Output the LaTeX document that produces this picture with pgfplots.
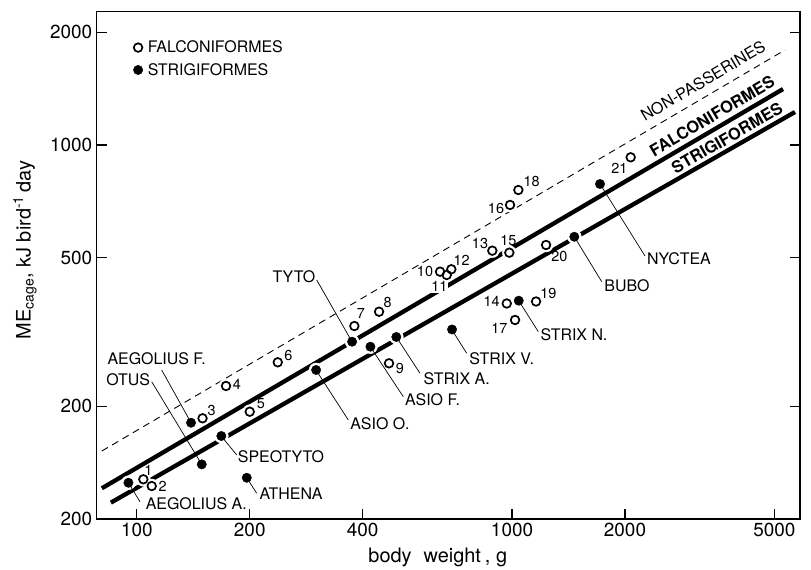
\documentclass[border=0pt]{standalone}
\usepackage{pgfplots}
\pgfplotsset{compat=1.18}
\usepackage{pgfplotstable}
\usepackage{fontspec}
\setmainfont{TeX Gyre Heros}
\newcommand\lab{\fontsize{16}{18}\selectfont}
\newcommand\num{\fontsize{14.5}{16}\selectfont}

\pgfplotstableread{
no x y
1 104.1 127.7
2 109.6 122.5
3 149.7 185.9
4 172.9 226.8
5 200.0 193.6
6 237.5 262.4
7 380.1 328.1
8 442.2 358.3
9 470.1 260.8
10 643.0 458.4
11 669.9 449.2
12 689.1 465.3
13 886.0 521.7
14 968.0 376.9
15 983.5 515.3
16 987.8 691.3
17 1018.6 340.5
18 1039.5 758.0
19 1158.7 381.6
20 1232.2 540.3
21 2071 927
}\falco

\pgfplotstableread{
name x y
AegoliusA 95.0 125.0
AegoliusF 139.5 180.9
Otus 149.0 140.0
Speotyto 168.0 166.7
Athena 196.4 128.9
AsioO 300.5 250.3
Tyto 374.8 297.9
AsioF 419.4 288.9
StrixA 491.6 306.7
StrixV 692.0 321.2
StrixN 1042 383.5
Bubo 1465.5 568.5
Nyctea 1716 786.6
}\strix

\begin{document}
\begin{tikzpicture}
\begin{axis}[name=ax,
  scale only axis, width=703.3bp, height=507.3bp,
  xmode=log, ymode=log,
  xmin=78.2, xmax=5854, ymin=100, ymax=2272,
  axis line style={line width=1.4bp},
  tick style={line width=1.2bp, black},
  major tick length=10bp,
  tick align=inside,
  xtick pos=left,
  xtick={100,200,400,1000,2000,5000},
  xticklabels={100,200,400,1000,2000,5000},
  ytick={100,200,500,1000,2000},
  yticklabels={200,200,500,1000,2000},
  minor xtick={}, minor ytick={},
  ticklabel style={font=\fontsize{19}{21}\selectfont},
  xticklabel style={yshift=-1bp},
  yticklabel style={xshift=-1bp},
  every axis x label/.style={at={(axis description cs:0.485,-0.075)}, anchor=center},
  every axis y label/.style={at={(axis description cs:-0.102,0.53)}, rotate=90, anchor=center},
  label style={font=\fontsize{20}{22}\selectfont},
  xlabel={body\hspace{0.6em}weight\hspace{0.2em}, g},
  ylabel={ME\textsubscript{cage}, kJ bird\textsuperscript{-1}\,day},
  legend style={draw=none, fill=none, inner sep=0pt, font=\lab,
    at={(axis description cs:0,1)}, anchor=north west, xshift=36.5bp, yshift=-28bp,
    row sep=7bp, column sep=4bp, nodes={inner sep=1bp}},
  legend cell align=left,
  clip=false,
]
% regression lines
\addplot[forget plot, black, dash pattern=on 7bp off 5bp, line width=0.9bp] coordinates {(80.7,152.0) (5339,1795)};
\addplot[forget plot, black, line width=4.3bp] coordinates {(80.7,120.8) (5274,1411)};
\addplot[forget plot, black, line width=4.3bp] coordinates {(85.3,110.6) (5676,1225)};
% white halos
\addplot[forget plot, only marks, mark=*, mark size=7bp, white, mark options={draw=white, fill=white}] table[x=x,y=y] {\falco};
\addplot[forget plot, only marks, mark=*, mark size=7bp, white, mark options={draw=white, fill=white}] table[x=x,y=y] {\strix};
% data
\addplot[only marks, mark=o, mark size=4.3bp, black, mark options={line width=1.7bp, fill=white}] table[x=x,y=y] {\falco};
\addlegendentry{FALCONIFORMES}
\addplot[only marks, mark=*, mark size=4.7bp, black] table[x=x,y=y] {\strix};
\addlegendentry{STRIGIFORMES}
\end{axis}
\begin{scope}[x=1bp, y=-1bp, shift={(ax.north west)}, shift={(-96.7,-11.7)}]
\path (0,0) rectangle (811,568);
% leader lines
\begin{scope}[line width=0.7bp]
\draw (316.7,280) -- (352,341.7);
\draw (348.3,420) -- (316,370);
\draw (403.3,396.7) -- (370.3,346.7);
\draw (420,373.3) -- (396.3,337);
\draw (466.7,353.3) -- (452,330);
\draw (538.3,331.7) -- (518.7,300.7);
\draw (601.7,281.7) -- (574.3,236.7);
\draw (645,256) -- (600,184);
\draw (161.7,370) -- (191,422.7);
\draw (151.7,381.7) -- (201.7,464.3);
\draw (236.7,455) -- (221.2,436);
\draw (256.7,493.3) -- (246.7,477.7);
\draw (140,501.7) -- (128.3,482.7);
\end{scope}
% species labels
\begin{scope}[every node/.style={font=\lab, inner sep=0pt}]
\node at (294,277) {TYTO};
\node at (380,423.5) {ASIO O.};
\node at (432.5,400) {ASIO F.};
\node at (456.7,379) {STRIX A.};
\node at (501.7,358.3) {STRIX V.};
\node at (574,335) {STRIX N.};
\node at (627,286) {BUBO};
\node at (679,259) {NYCTEA};
\node at (156.7,359) {AEGOLIUS F.};
\node at (128.3,380) {OTUS};
\node at (281,456.7) {SPEOTYTO};
\node at (291,494) {ATHENA};
\node at (196.3,504) {AEGOLIUS A.};
\node[rotate=30.5] at (703,81) {NON-PASSERINES};
\node[rotate=30.5, font=\fontsize{16.5}{18}\selectfont\bfseries] at (712,116) {FALCONIFORMES};
\node[rotate=30, font=\fontsize{16.5}{18}\selectfont\bfseries] at (727,138) {STRIGIFORMES};
\end{scope}
% number labels
\begin{scope}[every node/.style={font=\num, inner sep=0pt}]
\node at (148.5,470) {1};
\node at (162.7,486) {2};
\node at (211.7,410.7) {3};
\node at (237,384) {4};
\node at (261,404) {5};
\node at (288.3,355) {6};
\node at (361,313.3) {7};
\node at (387.7,302.7) {8};
\node at (400,368.3) {9};
\node at (425,271.7) {10};
\node[fill=white, inner sep=1bp] at (439.3,286.7) {11};
\node at (461.7,260.7) {12};
\node at (480,243.3) {13};
\node at (491.7,301.7) {14};
\node at (508.3,240) {15};
\node at (496,208.3) {16};
\node at (499.3,328.3) {17};
\node at (531.7,181.7) {18};
\node at (548.3,293.3) {19};
\node at (559.3,256.7) {20};
\node at (619.3,168.3) {21};
\end{scope}
\end{scope}
\end{tikzpicture}
\end{document}
